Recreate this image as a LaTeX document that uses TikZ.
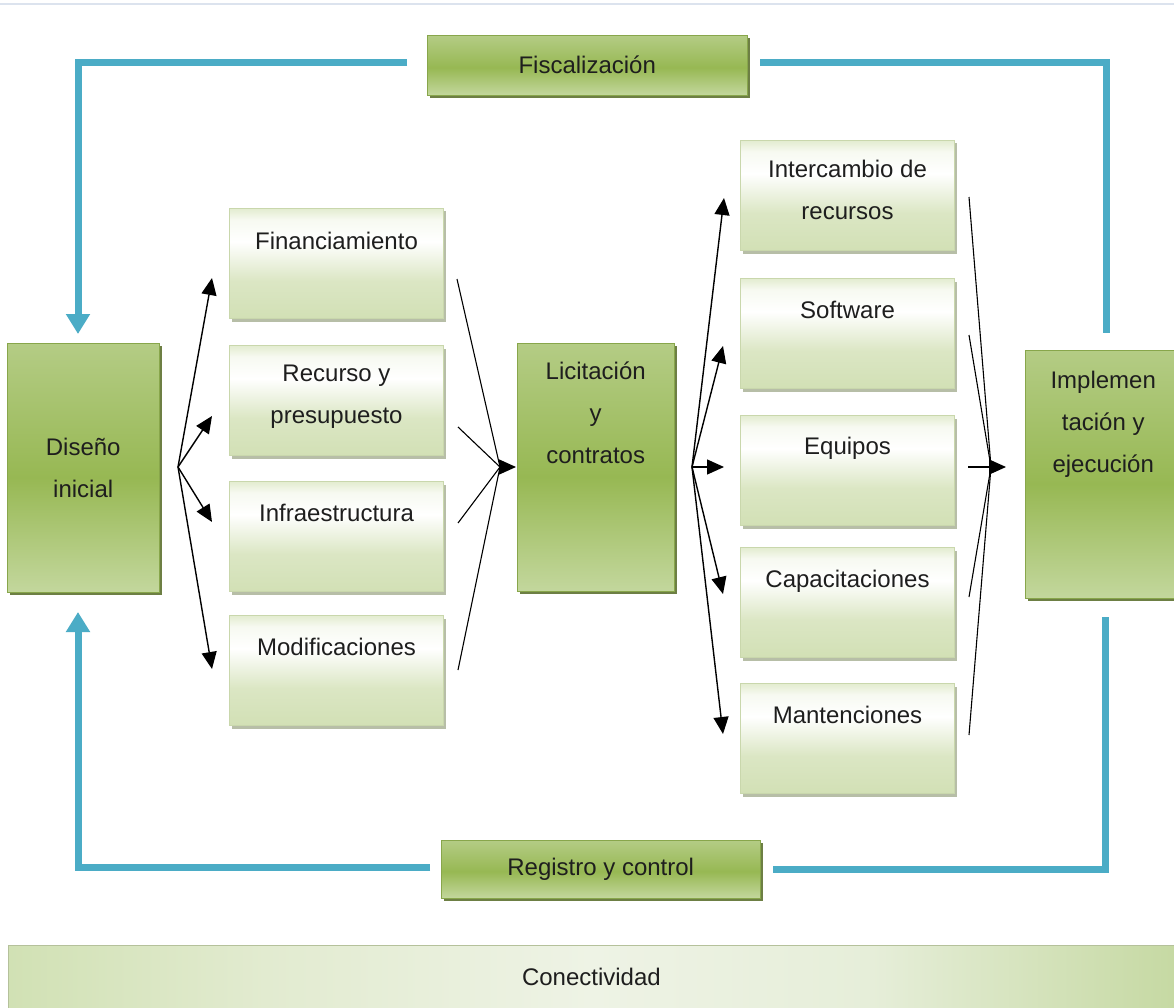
\documentclass[tikz,border=0pt]{standalone}
\usepackage{fontspec}
\setmainfont{Liberation Sans}
\usetikzlibrary{arrows.meta,shadows}
\definecolor{dgTop}{HTML}{B4CC85}
\definecolor{dgMid}{HTML}{97B853}
\definecolor{dgBot}{HTML}{C3D79D}
\definecolor{lgTop}{HTML}{E3ECD0}
\definecolor{lgBot}{HTML}{D2E0B5}
\definecolor{lgBorder}{HTML}{C9D7AC}
\definecolor{dshadow}{HTML}{5E7230}
\definecolor{lshadow}{HTML}{A6AE92}
\definecolor{flow}{HTML}{4BACC6}
\definecolor{txt}{HTML}{1E1E1E}
\definecolor{topline}{HTML}{DCE3EE}
\definecolor{cA}{HTML}{D1E1B4}
\definecolor{cB}{HTML}{E2EBD0}
\definecolor{cC}{HTML}{EEF3E5}
\definecolor{cD}{HTML}{E6EED9}
\definecolor{cE}{HTML}{C6D9A3}
\pgfdeclareverticalshading{darksh}{100bp}{color(0bp)=(dgBot); color(25bp)=(dgBot); color(48bp)=(dgMid); color(75bp)=(dgTop); color(100bp)=(dgTop)}
\pgfdeclareverticalshading{lightsh}{100bp}{color(0bp)=(lgBot); color(25bp)=(lgBot); color(42bp)=(lgBot!80!white); color(60bp)=(white); color(70bp)=(white!70!lgTop); color(75bp)=(lgTop); color(100bp)=(lgTop)}
\pgfdeclarehorizontalshading{consh}{100bp}{color(0bp)=(cA); color(25bp)=(cA); color(36bp)=(cB); color(50bp)=(cC); color(62bp)=(cD); color(75bp)=(cE); color(100bp)=(cE)}
\begin{document}
\begin{tikzpicture}[x=1pt,y=-1pt,
  basefont/.style={font=\fontsize{24}{42}\selectfont, text=txt},
  darkbox/.style={basefont, anchor=north west, shading=darksh, draw=dgMid!90!black, line width=0.4pt,
    drop shadow={shadow xshift=2.5pt, shadow yshift=-3pt, fill=dshadow, opacity=0.9},
    align=center, inner sep=0pt},
  lightbox/.style={basefont, anchor=north west, shading=lightsh, draw=lgBorder, line width=1pt,
    drop shadow={shadow xshift=2pt, shadow yshift=-3pt, fill=lshadow, opacity=0.8},
    minimum width=214pt, minimum height=110pt, inner sep=0pt},
  lbl/.style={basefont, anchor=north, align=center, inner sep=0pt},
  fan/.style={line width=1.4pt, black, -{Triangle[length=17pt,width=15pt]}},
  thin/.style={line width=1.1pt, black},
  flowline/.style={line width=7pt, flow},
  flowarrow/.style={line width=7pt, flow, -{Triangle[length=20pt,width=23pt]}}
]
\useasboundingbox (0,0) rectangle (1174,1008);
\fill[white] (0,0) rectangle (1174,1008);
\draw[topline, line width=1.2pt] (0,4) -- (1174,4);

% big boxes
\node[darkbox, minimum width=320pt, minimum height=60pt] (fis) at (427,35) {Fiscalizaci\'on};
\node[darkbox, minimum width=319pt, minimum height=58pt] (reg) at (441,840) {Registro y control};
\node[darkbox, minimum width=152pt, minimum height=249pt] (dis) at (7,343) {Dise\~no\\inicial};
\node[darkbox, minimum width=157pt, minimum height=248pt,
  label={[lbl, yshift=-19pt]north:Licitaci\'on\\y\\contratos}] (lic) at (517,343) {};
\node[darkbox, minimum width=160pt, minimum height=248pt,
  label={[lbl, yshift=-21pt, xshift=-2pt]north:Implemen\\taci\'on y\\ejecuci\'on}] (imp) at (1025,350) {};

% Conectividad bar
\node[basefont, anchor=north west, minimum width=1166pt, minimum height=64pt, inner sep=0pt,
  shading=consh, draw=lgBorder!90!black, line width=0.8pt] (con) at (8,945) {Conectividad};

% left column
\node[lightbox, label={[lbl, yshift=-24pt]north:Financiamiento}] (fin) at (229,208) {};
\node[lightbox, label={[lbl, yshift=-20pt]north:Recurso y\\presupuesto}] (rec) at (229,345) {};
\node[lightbox, label={[lbl, yshift=-23pt]north:Infraestructura}] (inf) at (229,481) {};
\node[lightbox, label={[lbl, yshift=-23pt]north:Modificaciones}] (mod) at (229,615) {};

% right column
\node[lightbox, label={[lbl, yshift=-20pt]north:Intercambio de\\recursos}] (int) at (740,140) {};
\node[lightbox, label={[lbl, yshift=-23pt]north:Software}] (sof) at (740,278) {};
\node[lightbox, label={[lbl, yshift=-22pt]north:Equipos}] (equ) at (740,415) {};
\node[lightbox, label={[lbl, yshift=-23pt]north:Capacitaciones}] (cap) at (740,547) {};
\node[lightbox, label={[lbl, yshift=-23pt]north:Mantenciones}] (man) at (740,683) {};

% fan from Diseño
\coordinate (dfan) at (178,467);
\coordinate (tfin) at (212,278);
\coordinate (trec) at (212,416);
\coordinate (tinf) at (212,522);
\coordinate (tmod) at (212,669);
\draw[fan] (dfan) -- (tfin);
\draw[fan] (dfan) -- (trec);
\draw[fan] (dfan) -- (tinf);
\draw[fan] (dfan) -- (tmod);

% converge into Licitación
\coordinate (lin) at (500,467);
\coordinate (ltip) at (516,467);
\coordinate (sfin) at (457,279);
\coordinate (srec) at (458,427);
\coordinate (sinf) at (458,523);
\coordinate (smod) at (458,670);
\draw[thin] (sfin) -- (lin);
\draw[thin] (srec) -- (lin);
\draw[thin] (sinf) -- (lin);
\draw[thin] (smod) -- (lin);
\draw[fan] (lin) -- (ltip);

% fan from Licitación
\coordinate (rfan) at (692,467);
\coordinate (tint) at (724,198);
\coordinate (tsof) at (723,346);
\coordinate (tequ) at (724,467);
\coordinate (tcap) at (723,594);
\coordinate (tman) at (723,734);
\draw[fan] (rfan) -- (tint);
\draw[fan] (rfan) -- (tsof);
\draw[fan] (rfan) -- (tequ);
\draw[fan] (rfan) -- (tcap);
\draw[fan] (rfan) -- (tman);

% converge into Implementación
\coordinate (iin) at (991,467);
\coordinate (itip) at (1006,467);
\coordinate (sint) at (969,197);
\coordinate (ssof) at (969,335);
\coordinate (sequ) at (968,467);
\coordinate (scap) at (969,597);
\coordinate (sman) at (969,735);
\draw[thin] (sint) -- (iin);
\draw[thin] (ssof) -- (iin);
\draw[thin] (scap) -- (iin);
\draw[thin] (sman) -- (iin);
\draw[fan] (sequ) -- (itip);

% blue feedback lines
\coordinate (f1) at (407,63);
\coordinate (f1c) at (78,63);
\coordinate (f1t) at (78,334);
\coordinate (f2) at (760,63);
\coordinate (f2c) at (1106,63);
\coordinate (f2e) at (1106,333);
\coordinate (r1) at (430,867);
\coordinate (r1c) at (78,867);
\coordinate (r1t) at (78,612);
\coordinate (r2) at (773,869);
\coordinate (r2c) at (1105,869);
\coordinate (r2e) at (1105,617);
\draw[flowarrow] (f1) -- (f1c) -- (f1t);
\draw[flowline] (f2) -- (f2c) -- (f2e);
\draw[flowarrow] (r1) -- (r1c) -- (r1t);
\draw[flowline] (r2) -- (r2c) -- (r2e);
\end{tikzpicture}
\end{document}
